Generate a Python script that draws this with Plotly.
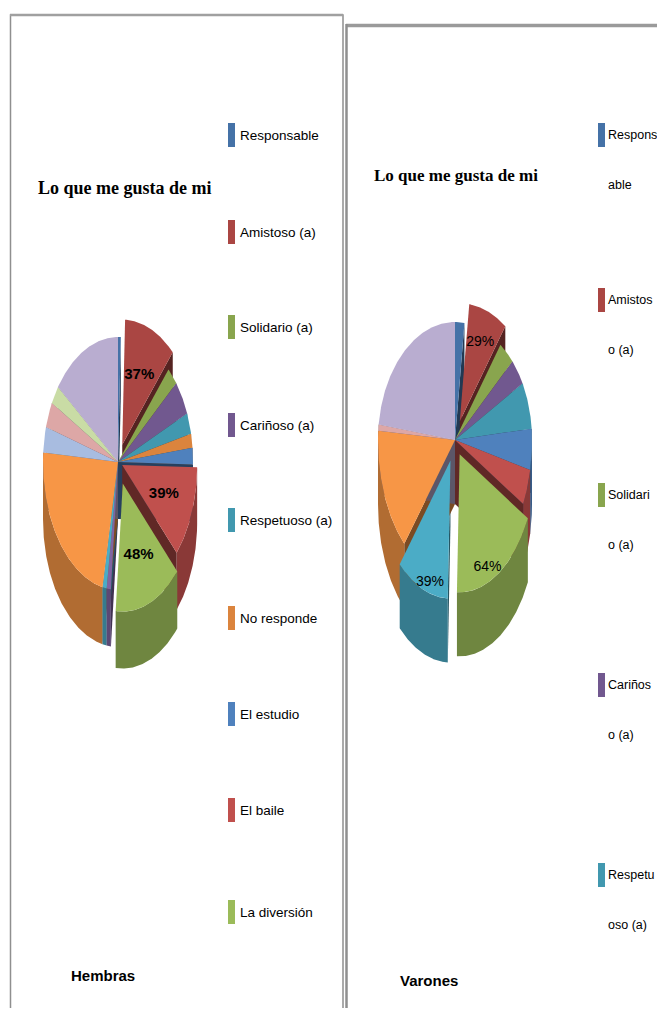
import numpy as np
import plotly.graph_objects as go

# ---------------- data ----------------
categories = ["Responsable", "Amistoso (a)", "Solidario (a)", "Cariñoso (a)",
              "Respetuoso (a)", "No responde", "El estudio", "El baile",
              "La diversión", "Categoría 10", "Categoría 11", "Categoría 12",
              "Categoría 13", "Categoría 14", "Categoría 15", "Categoría 16"]
hembras = [2, 37, 8, 15, 9, 6, 7, 39, 48, 3, 3, 76, 11, 11, 8, 49]
varones = [7, 29, 12, 13, 23, 0, 18, 15, 64, 0, 39, 53, 0, 3, 0, 82]
chart_title = "Lo que me gusta de mi"
panel_names = ["Hembras", "Varones"]
# wrapped legend texts of the narrow right-hand legend
varones_legend_lines = [("Respons", "able"), ("Amistos", "o (a)"), ("Solidari", "o (a)"),
                        ("Cariños", "o (a)"), ("Respetu", "oso (a)")]

# ---------------- styles ----------------
colors = ["#4572A7", "#AA4643", "#89A54E", "#71588F", "#4198AF", "#DB843D",
          "#4F81BD", "#C0504D", "#9BBB59", "#8064A2", "#4BACC6", "#F79646",
          "#A8BCE0", "#DDA7A6", "#C9DCA5", "#B9ADD0"]
WIN_W, WIN_H, PAGE_MARGIN = 665, 1016, 8   # browser window and default body margin
SANS = "Liberation Sans, Arial, sans-serif"
SERIF = "Liberation Serif, Times New Roman, serif"

left_geo = dict(cx=118, cy=462, a=75, bt=125, bb=128, depth=57,
                explode={1: 0.15, 7: 0.06, 8: 0.18}, labels=[1, 7, 8],
                label_r=0.6, label_drop=0.0, bold=True, label_size=15)
right_geo = dict(cx=455, cy=440, a=77, bt=118, bb=138, depth=64,
                 explode={1: 0.17, 8: 0.12, 10: 0.16}, labels=[1, 8, 10],
                 label_r=0.72, label_drop=0.5, bold=False, label_size=14)


def shade(hexcol, f):
    h = hexcol.lstrip("#")
    r, g, b = (int(h[i:i + 2], 16) for i in (0, 2, 4))
    return "rgb(%d,%d,%d)" % (r * f, g * f, b * f)


def ell(t_deg, a, bt, bb):
    t = np.radians(t_deg)
    c = np.cos(t)
    return a * np.sin(t), -np.where(c > 0, bt, bb) * c


def poly(fig, xs, ys, col):
    fig.add_trace(go.Scatter(x=list(xs) + [xs[0]], y=list(ys) + [ys[0]], mode="lines",
                             fill="toself", fillcolor=col, line=dict(width=0),
                             hoverinfo="skip", showlegend=False))


def draw_pie(fig, values, geo):
    cx, cy, a, bt, bb, d = geo["cx"], geo["cy"], geo["a"], geo["bt"], geo["bb"], geo["depth"]
    vals = np.array(values, float)
    frac = vals / vals.sum() * 360.0
    ends = np.cumsum(frac)
    starts = ends - frac
    faces, sides, tops, labels = [], [], [], []
    for i, (v, t0, t1) in enumerate(zip(vals, starts, ends)):
        if v <= 0:
            continue
        tm = (t0 + t1) / 2
        ex, ey = ell(tm, a, bt, bb)
        ex, ey = float(ex), float(ey)
        e = geo["explode"].get(i, 0.0)
        ox, oy = cx + ex * e, cy + ey * e
        ts = np.linspace(t0, t1, max(4, int((t1 - t0) * 2)))
        px, py = ell(ts, a, bt, bb)
        tops.append(([ox] + list(ox + px), [oy] + list(oy + py), colors[i]))
        lo, hi = max(t0, 90.0), min(t1, 270.0)
        if hi > lo:
            t2 = np.linspace(lo, hi, max(4, int((hi - lo) * 2)))
            sx, sy = ell(t2, a, bt, bb)
            xs = list(ox + sx) + list(ox + sx[::-1])
            ys = list(oy + sy) + list(oy + sy[::-1] + d)
            sides.append((np.mean(ys), xs, ys, shade(colors[i], 0.72)))
        for t, vis in ((t0, np.sin(np.radians(t0)) < -1e-6), (t1, np.sin(np.radians(t1)) > 1e-6)):
            if vis:
                qx, qy = ell(t, a, bt, bb)
                qx, qy = float(qx), float(qy)
                faces.append(([ox, ox + qx, ox + qx, ox], [oy, oy + qy, oy + qy + d, oy + d],
                              shade(colors[i], 0.5)))
        if i in geo["labels"]:
            drop = geo["label_drop"] * d * max(0.0, -np.cos(np.radians(tm)))
            labels.append((ox + geo["label_r"] * ex, oy + geo["label_r"] * ey + drop, "%d%%" % v))
    for xs, ys, c in faces:
        poly(fig, xs, ys, c)
    for _, xs, ys, c in sorted(sides, key=lambda s: s[0]):
        poly(fig, xs, ys, c)
    for xs, ys, c in tops:
        poly(fig, xs, ys, c)
    fig.add_trace(go.Scatter(
        x=[l[0] for l in labels], y=[l[1] for l in labels], text=[l[2] for l in labels],
        mode="text", hoverinfo="skip", showlegend=False,
        textfont=dict(family=SANS, size=geo["label_size"], color="black",
                      weight="bold" if geo["bold"] else "normal")))


fig = go.Figure()
draw_pie(fig, hembras, left_geo)
draw_pie(fig, varones, right_geo)

shapes = []
annotations = []
# panel frames
shapes.append(dict(type="rect", x0=10.5, y0=15, x1=343, y1=1030, line=dict(color="#8f8f8f", width=1.5)))
shapes.append(dict(type="line", x0=10, y0=15, x1=343, y1=15, line=dict(color="#a0a0a0", width=2.5)))
shapes.append(dict(type="line", x0=346, y0=25.5, x1=666, y1=25.5, line=dict(color="#9a9a9a", width=3.5)))
shapes.append(dict(type="line", x0=346.5, y0=24, x1=346.5, y1=1030, line=dict(color="#8f8f8f", width=2.5)))

# titles and panel names
for x, y, size in ((125, 188, 18), (456, 175, 17)):
    annotations.append(dict(x=x, y=y, text=chart_title, showarrow=False,
                            font=dict(family=SERIF, size=size, color="black", weight="bold")))
for x, y, name in ((103, 975, panel_names[0]), (429, 980, panel_names[1])):
    annotations.append(dict(x=x, y=y, text=name, showarrow=False,
                            font=dict(family=SANS, size=15, color="black", weight="bold")))

# left legend
left_leg_y = [135, 232, 327, 425, 520, 618, 714, 810, 912]
for i, y in enumerate(left_leg_y):
    shapes.append(dict(type="rect", x0=228, x1=235, y0=y - 12, y1=y + 12,
                       fillcolor=colors[i], line=dict(width=0)))
    annotations.append(dict(x=238, y=y, text=categories[i], showarrow=False, xanchor="left",
                            font=dict(family=SANS, size=13.5, color="black")))
# right legend (wrapped)
right_leg_y = [135, 300, 495, 685, 875]
for i, (y, (l1, l2)) in enumerate(zip(right_leg_y, varones_legend_lines)):
    shapes.append(dict(type="rect", x0=598, x1=605, y0=y - 12, y1=y + 12,
                       fillcolor=colors[i], line=dict(width=0)))
    annotations.append(dict(x=606, y=y, text=l1, showarrow=False, xanchor="left",
                            font=dict(family=SANS, size=12.5, color="black")))
    annotations.append(dict(x=606, y=y + 50, text=l2, showarrow=False, xanchor="left",
                            font=dict(family=SANS, size=12.5, color="black")))

for s in shapes:
    s.update(xref="x", yref="y", layer="above")
for an in annotations:
    an.update(xref="x", yref="y")

# The figure sits inside the page's default 8px body margin; axes are in window pixels.
fig_w = WIN_W - PAGE_MARGIN
fig_h = WIN_H - 2 * PAGE_MARGIN
fig.update_layout(
    width=fig_w, height=fig_h, margin=dict(l=0, r=0, t=0, b=0),
    paper_bgcolor="white", plot_bgcolor="white",
    xaxis=dict(range=[PAGE_MARGIN, PAGE_MARGIN + fig_w], visible=False, fixedrange=True),
    yaxis=dict(range=[PAGE_MARGIN + fig_h, PAGE_MARGIN], visible=False, fixedrange=True),
    shapes=shapes, annotations=annotations, showlegend=False,
)
fig.write_html("out.html")
